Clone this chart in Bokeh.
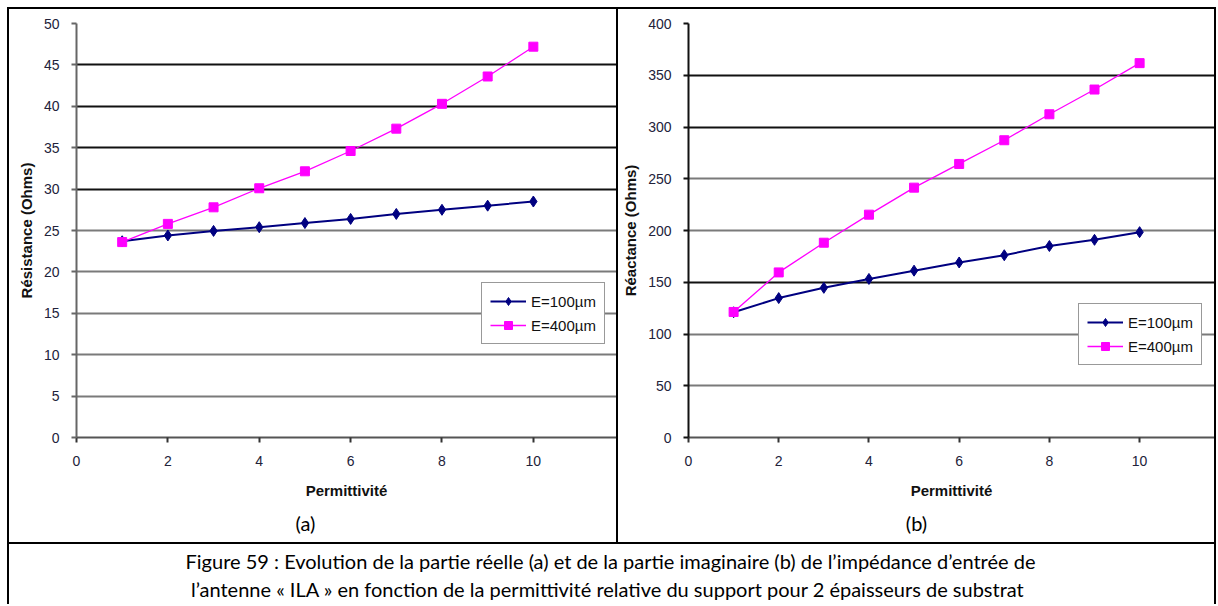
from bokeh.plotting import figure
from bokeh.layouts import row, column
from bokeh.models import FixedTicker, Grid, Legend, LegendItem, Label, Range1d, Spacer
from bokeh.embed import file_html
from bokeh.resources import INLINE

# ---------------- data ----------------
permittivite = [1, 2, 3, 4, 5, 6, 7, 8, 9, 10]
resistance_100 = [23.7, 24.4, 24.95, 25.4, 25.9, 26.4, 27.0, 27.5, 28.0, 28.5]
resistance_400 = [23.6, 25.8, 27.8, 30.1, 32.15, 34.6, 37.3, 40.3, 43.6, 47.2]
reactance_100 = [121, 134.7, 144.6, 153.2, 161.2, 169.1, 176.1, 185, 191, 198.4]
reactance_400 = [121.3, 159.5, 188.2, 215.3, 241.4, 264.3, 287.2, 312.3, 336.2, 361.7]

series_labels = ["E=100µm", "E=400µm"]
x_ticks = [0, 2, 4, 6, 8, 10]
res_ticks = [0, 5, 10, 15, 20, 25, 30, 35, 40, 45, 50]
reac_ticks = [0, 50, 100, 150, 200, 250, 300, 350, 400]
res_dark_grid = [30, 35, 40, 45]
reac_dark_grid = [150, 300, 350]

x_label = "Permittivité"
y_label_a = "Résistance (Ohms)"
y_label_b = "Réactance (Ohms)"
sub_a = "(a)"
sub_b = "(b)"
caption_1 = "Figure 59 : Evolution de la partie réelle (a) et de la partie imaginaire (b) de l’impédance d’entrée de"
caption_2 = "l’antenne  « ILA » en fonction de la permittivité relative du support pour 2 épaisseurs de substrat"

FONT = "Liberation Sans"
CAP_FONT = "Lato"
CHART_H = 503
SUB_H = 30
CAP_H = 60
W_A = 607
W_B = 596
W_T = 2 + W_A + 2 + W_B + 2
BLACK = {"background-color": "black"}


def text_box(w, h, texts):
    """A plain white figure whose frame is the whole canvas, holding centred texts."""
    b = figure(width=w, height=h, x_range=Range1d(0, 1), y_range=Range1d(0, 1),
               min_border=0, toolbar_location=None, output_backend="svg",
               x_axis_type=None, y_axis_type=None, outline_line_color=None,
               border_fill_color="white", background_fill_color="white")
    for txt, sx, sy in texts:
        b.add_layout(Label(x=sx, y=sy, x_units="screen", y_units="screen", text=txt,
                           text_align="center", text_baseline="middle",
                           text_font=CAP_FONT, text_font_size="20px", text_color="black"))
    return b


def chart(w, left_border, top_border, bottom_border, xmax, ymax, yticks, dark,
          ylabel, y100, y400, legend_loc, yaxis_color):
    p = figure(width=w, height=CHART_H, x_range=Range1d(0, xmax), y_range=Range1d(0, ymax),
               toolbar_location=None, output_backend="svg",
               min_border_left=left_border, min_border_right=0,
               min_border_top=top_border, min_border_bottom=bottom_border,
               outline_line_color=None, border_fill_color="white",
               background_fill_color="white")
    p.xgrid.visible = False
    p.ygrid.visible = False
    grey = [t for t in yticks if t not in dark and t != 0]
    for ticks, color in [(grey, "#7a7a7a"), (dark, "#111111")]:
        p.add_layout(Grid(dimension=1, ticker=FixedTicker(ticks=ticks),
                          grid_line_color=color, grid_line_width=2))

    p.xaxis.ticker = FixedTicker(ticks=x_ticks)
    p.yaxis.ticker = FixedTicker(ticks=yticks)
    for ax in (p.xaxis, p.yaxis):
        ax.major_tick_in = 0
        ax.major_tick_out = 5
        ax.minor_tick_in = 0
        ax.minor_tick_out = 0
        ax.major_label_text_font = FONT
        ax.major_label_text_font_size = "14px"
        ax.major_label_text_color = "#22223a"
        ax.axis_label_text_font = FONT
        ax.axis_label_text_font_size = "15px"
        ax.axis_label_text_font_style = "bold"
        ax.axis_label_text_color = "#111111"
        ax.axis_line_width = 2
        ax.major_tick_line_width = 2
    p.xaxis.axis_line_color = "#555555"
    p.xaxis.major_tick_line_color = "#333333"
    p.yaxis.axis_line_color = yaxis_color
    p.yaxis.major_tick_line_color = yaxis_color
    p.xaxis.axis_label = x_label
    p.yaxis.axis_label = ylabel
    p.xaxis.major_label_standoff = 13
    p.xaxis.axis_label_standoff = 13
    p.yaxis.major_label_standoff = 12
    p.yaxis.axis_label_standoff = 6

    l1 = p.line(permittivite, y100, line_color="#000080", line_width=2)
    s1 = p.scatter(permittivite, y100, marker="diamond", size=11,
                   fill_color="#000080", line_color="#000080")
    l2 = p.line(permittivite, y400, line_color="#ff00ff", line_width=1.3)
    s2 = p.scatter(permittivite, y400, marker="square", size=9,
                   fill_color="#ff00ff", line_color="#ff00ff")

    legend = Legend(items=[LegendItem(label=series_labels[0], renderers=[l1, s1]),
                           LegendItem(label=series_labels[1], renderers=[l2, s2])],
                    location=legend_loc, margin=0, padding=8, spacing=4,
                    glyph_width=36, glyph_height=20, label_height=20, label_standoff=5,
                    label_text_font=FONT, label_text_font_size="15px",
                    label_text_color="#111111",
                    border_line_color="#333333", border_line_width=1.5,
                    background_fill_color="white", background_fill_alpha=1.0)
    p.add_layout(legend)
    return p


# cell (a): page x 9..616, cell (b): page x 618..1214
fa = chart(W_A, 67, 14, 71, 11.82, 50, res_ticks, res_dark_grid, y_label_a,
           resistance_100, resistance_400, (405, 93), "#666666")
fb = chart(W_B, 70, 10, 75, 11.66, 400, reac_ticks, reac_dark_grid, y_label_b,
           reactance_100, reactance_400, (390, 72), "#111111")
sa = text_box(W_A, SUB_H, [(sub_a, 296, 20)])
sb = text_box(W_B, SUB_H, [(sub_b, 298, 20)])
cap = text_box(W_T - 4, CAP_H, [(caption_1, 601, 44), (caption_2, 601, 16)])


def vbar(h):
    return Spacer(width=2, height=h, styles=BLACK)


def hbar():
    return Spacer(width=W_T, height=2, styles=BLACK)


table = column(
    hbar(),
    row(vbar(CHART_H), fa, vbar(CHART_H), fb, vbar(CHART_H)),
    row(vbar(SUB_H), sa, vbar(SUB_H), sb, vbar(SUB_H)),
    hbar(),
    row(vbar(CAP_H), cap, vbar(CAP_H)),
    styles={"background-color": "white"},
)

page = column(Spacer(width=W_T + 7, height=7),
              row(Spacer(width=7, height=2 + CHART_H + SUB_H + 2 + CAP_H), table))

open("out.html", "w").write(file_html(page, INLINE))
